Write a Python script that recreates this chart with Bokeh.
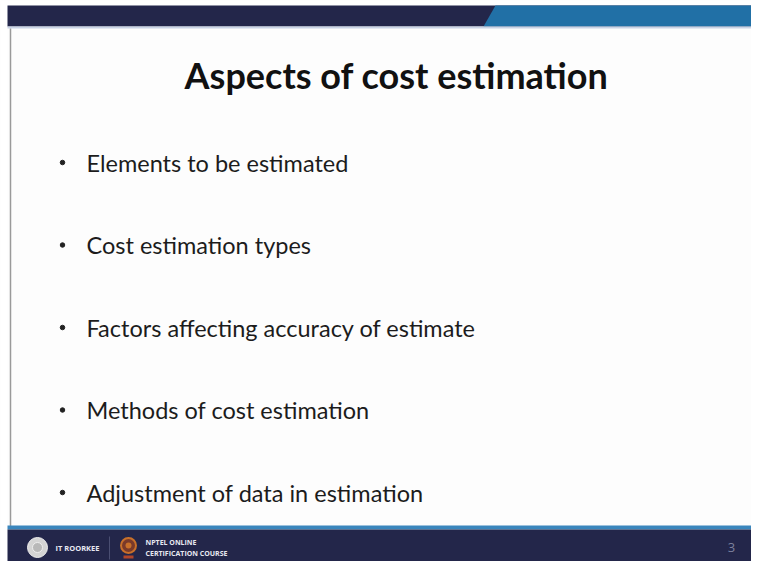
from bokeh.plotting import figure
from bokeh.models import Range1d
from bokeh.core.properties import value
from bokeh.embed import file_html
from bokeh.resources import INLINE

title = "Aspects of cost estimation"
bullets = [
    "Elements to be estimated",
    "Cost estimation types",
    "Factors affecting accuracy of estimate",
    "Methods of cost estimation",
    "Adjustment of data in estimation",
]
footer_left = "IT ROORKEE"
footer_course = ["NPTEL ONLINE", "CERTIFICATION COURSE"]
page_number = "3"

W, H = 751, 561
p = figure(width=W, height=H, output_backend="svg", toolbar_location=None,
           x_range=Range1d(0, W), y_range=Range1d(H, 0),
           min_border=0, outline_line_color=None)
p.axis.visible = False
p.grid.visible = False
p.background_fill_color = "#fdfdfd"
p.border_fill_color = "#ffffff"

NAVY = "#23264a"
BLUE = "#2170a6"

# area outside slide (top strip and left strip)
p.quad(left=[0], right=[W], top=[0], bottom=[5], fill_color="#ffffff", line_color=None)
p.quad(left=[0], right=[7], top=[0], bottom=[H], fill_color="#ffffff", line_color=None)

# top bar
p.quad(left=[7], right=[W], top=[5], bottom=[26], fill_color=NAVY, line_color=None)
p.patch(x=[483, 495, W, W], y=[26, 5, 5, 26], fill_color=BLUE, line_color=None)
p.quad(left=[7], right=[W], top=[26], bottom=[28], fill_color="#c9d3e6", line_color=None)

# left border of slide
p.segment(x0=[10], y0=[28], x1=[10], y1=[526], line_color="#9a9a9a", line_width=1.5)

# title
p.text(x=[396], y=[74], text=[title], text_font=value("Lato"), text_font_style="bold",
       text_font_size="36px", text_align="center", text_baseline="middle", text_color="#111111")

# bullets
y0, dy = 162, 82.5
ys = [y0 + i * dy for i in range(len(bullets))]
p.scatter(x=[62] * len(bullets), y=ys, size=4.5, color="#222222")
p.text(x=[86] * len(bullets), y=ys, text=bullets, text_font=value("Lato"),
       text_font_size="23.5px", text_align="left", text_baseline="middle", text_color="#1c1c1c")

# footer
p.quad(left=[7], right=[W], top=[525], bottom=[529], fill_color="#3a86bd", line_color=None)
p.quad(left=[7], right=[W], top=[529], bottom=[H], fill_color=NAVY, line_color=None)

# IIT seal
p.circle(x=[37], y=[547], radius=10, fill_color="#d4d4d4", line_color="#eeeeee", line_width=1)
p.circle(x=[37], y=[547], radius=5, fill_color="#b8b8b8", line_color="#eeeeee", line_width=1)
p.text(x=[55], y=[547], text=[footer_left], text_font=value("Open Sans"), text_font_style="bold",
       text_font_size="7.5px", text_align="left", text_baseline="middle", text_color="#e8e8f0")
p.segment(x0=[109], y0=[536], x1=[109], y1=[559], line_color="#4a4e72", line_width=1)

# NPTEL logo
p.circle(x=[128], y=[545], radius=7.5, fill_color="#7a3a2a", line_color="#c8702a", line_width=2)
p.circle(x=[128], y=[545], radius=3, fill_color="#c8702a", line_color=None)
p.quad(left=[123], right=[133], top=[555], bottom=[558], fill_color="#b0462a", line_color=None)
p.text(x=[145, 145], y=[542, 553], text=footer_course, text_font=value("Open Sans"),
       text_font_style="bold", text_font_size="7px", text_align="left", text_baseline="middle",
       text_color="#e8e8f0")

p.text(x=[731], y=[547], text=[page_number], text_font=value("Open Sans"),
       text_font_size="13px", text_align="center", text_baseline="middle", text_color="#7c809c")

open("out.html", "w").write(file_html(p, INLINE))
